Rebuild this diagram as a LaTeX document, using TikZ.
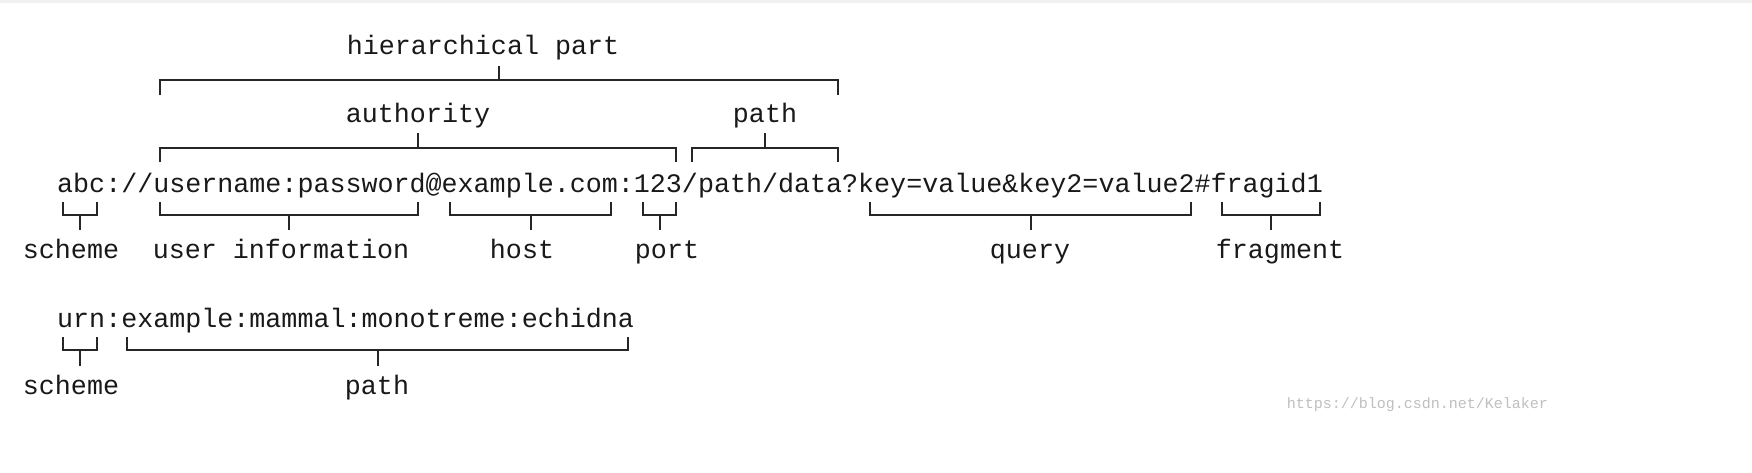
\documentclass[tikz,border=0pt]{standalone}
\usepackage{fontspec}
\setmainfont{Liberation Mono}
\newcommand{\brk}[5]{\draw[br] (#1,#4) -- (#1,#3) -- (#2,#3) -- (#2,#4); \draw[br] ({round((#1+#2)/2)},#3) -- ({round((#1+#2)/2)},#5);}
\begin{document}
\begin{tikzpicture}[x=1pt,y=-1pt,
  txt/.style={inner sep=0pt,font=\fontsize{26.7}{30}\selectfont,text=black!90,anchor=base},
  br/.style={line width=1.6pt,black!85}]
\fill[white] (0,0) rectangle (1752,472);
\fill[black!6] (0,0) rectangle (1752,3);
\node[txt,anchor=base west] (main) at (57,192) {abc://username:password@example.com:123/path/data?key=value\&key2=value2\#fragid1};
\node[txt] (hp) at (483,54) {hierarchical part};
\node[txt] (auth) at (418,122) {authority};
\node[txt] (path) at (765,122) {path};
\node[txt] (sch) at (71,258) {scheme};
\node[txt] (ui) at (281,258) {user information};
\node[txt] (host) at (522,258) {host};
\node[txt] (port) at (667,258) {port};
\node[txt] (query) at (1030,258) {query};
\node[txt] (frag) at (1280,258) {fragment};
\node[txt,anchor=base west] (urn) at (57,327) {urn:example:mammal:monotreme:echidna};
\node[txt] (sch2) at (71,394) {scheme};
\node[txt] (path2) at (377,394) {path};
\node[inner sep=0pt,font=\fontsize{15}{18}\selectfont,text=black!25,anchor=east] (wm) at (1548,405) {https://blog.csdn.net/Kelaker};
\brk{160}{838}{80}{95}{66}
\brk{160}{676}{148}{162}{133}
\brk{692}{838}{148}{162}{133}
\brk{63}{97}{215}{202}{230}
\brk{160}{418}{215}{202}{230}
\brk{450}{611}{215}{202}{230}
\brk{643}{676}{215}{202}{230}
\brk{870}{1191}{215}{202}{230}
\brk{1222}{1320}{215}{202}{230}
\brk{63}{97}{350}{337}{366}
\brk{127}{628}{350}{337}{366}
\end{tikzpicture}
\end{document}
